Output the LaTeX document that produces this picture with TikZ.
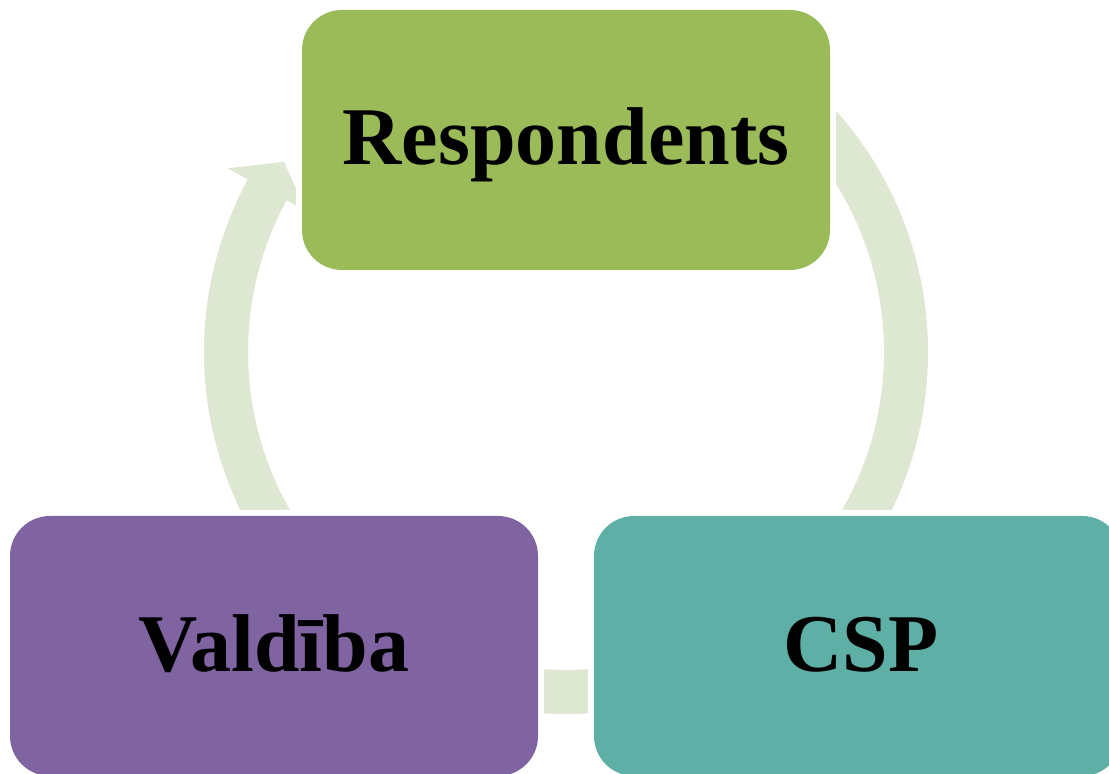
\documentclass[tikz,border=0pt]{standalone}
\usepackage{fontspec}
\setmainfont{Liberation Serif}
\usetikzlibrary{calc}
\definecolor{arrowc}{HTML}{DEE7D2}
\definecolor{greenc}{HTML}{9BBB59}
\definecolor{purplec}{HTML}{8064A2}
\definecolor{tealc}{HTML}{5EAFA6}
\newcommand\cycarrow[3]{%
  \fill[arrowc] ($(c)+(#1:362pt)$) arc[start angle=#1, end angle=#2, radius=362pt]
    -- ($(c)+(#2:385pt)$) -- ($(c)+(#3:340pt)$) -- ($(c)+(#2:296pt)$)
    -- ($(c)+(#2:318pt)$) arc[start angle=#2, end angle=#1, radius=318pt] -- cycle;}
\tikzset{
  box/.style={rounded corners=40pt, minimum width=528pt, minimum height=260pt,
    inner sep=0pt, preaction={draw=white, line width=12pt}},
  txt/.style={font=\fontsize{82pt}{90pt}\selectfont\bfseries, text=black, inner sep=0pt, anchor=base}
}
\begin{document}
\begin{tikzpicture}
\useasboundingbox (0,0) rectangle (1109pt,774pt);
\coordinate (c) at (566pt,422pt);
% cycle arrows
\cycarrow{215}{151.5}{146}
\cycarrow{50}{-38}{-43.5}
\cycarrow{-50}{-125}{-130.5}
% boxes
\node[box, fill=greenc] (r) at (566pt,634pt) {};
\node[box, fill=purplec] (v) at (274pt,128pt) {};
\node[box, fill=tealc] (s) at (858pt,128pt) {};
% labels
\node[txt] (rt) at ($(r.center)+(0,-25pt)$) {Respondents};
\node[txt] (vt) at ($(v.center)+(0,-26pt)$) {Valdība};
\node[txt] (st) at ($(s.center)+(3pt,-26pt)$) {CSP};
\end{tikzpicture}
\end{document}
